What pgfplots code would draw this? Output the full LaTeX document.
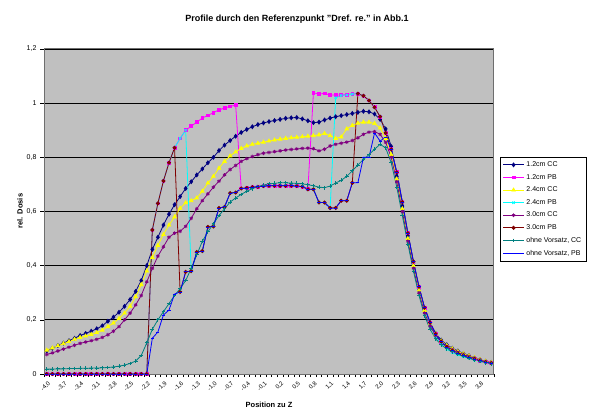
\documentclass[border=0pt]{standalone}
\usepackage{fontspec}
\setmainfont{Liberation Sans}
\usepackage{pgfplots}
\pgfplotsset{compat=1.18}
\usepackage{pgfplotstable}
\definecolor{cNavy}{RGB}{0,0,128}
\definecolor{cMag}{RGB}{255,0,255}
\definecolor{cYel}{RGB}{255,255,0}
\definecolor{cCyan}{RGB}{0,255,255}
\definecolor{cPurp}{RGB}{128,0,128}
\definecolor{cDRed}{RGB}{128,0,0}
\definecolor{cTeal}{RGB}{0,128,128}
\definecolor{cBlue}{RGB}{0,0,255}
\definecolor{cBg}{RGB}{192,192,192}
\definecolor{cFrame}{RGB}{110,110,110}
\pgfplotstableread{
x a b c d e f g h
-4.0 0.085 0 0.088 0 0.072 0 0.018 0
-3.9 0.095 0 0.096 0 0.078 0 0.018 0
-3.8 0.105 0 0.104 0 0.085 0 0.019 0
-3.7 0.114 0 0.112 0 0.092 0 0.019 0
-3.6 0.123 0 0.120 0 0.099 0 0.020 0
-3.5 0.132 0 0.128 0 0.106 0 0.020 0
-3.4 0.142 0 0.135 0 0.113 0 0.021 0
-3.3 0.150 0 0.140 0 0.118 0 0.021 0
-3.2 0.158 0 0.146 0 0.123 0 0.022 0
-3.1 0.167 0 0.153 0 0.128 0 0.022 0
-3.0 0.178 0 0.162 0 0.135 0 0.023 0
-2.9 0.195 0 0.175 0 0.145 0 0.024 0
-2.8 0.210 0 0.188 0 0.158 0 0.026 0
-2.7 0.228 0 0.205 0 0.175 0 0.029 0
-2.6 0.250 0 0.225 0 0.200 0 0.033 0
-2.5 0.275 0 0.250 0 0.225 0 0.039 0
-2.4 0.305 0 0.285 0 0.255 0 0.048 0
-2.3 0.345 0 0.330 0 0.290 0 0.068 0
-2.2 0.400 0 0.380 0 0.340 0 0.115 0
-2.1 0.460 0.532 0.430 0.532 0.390 0.532 0.165 0.132
-2.0 0.505 0.630 0.475 0.630 0.435 0.630 0.200 0.155
-1.9 0.550 0.713 0.515 0.713 0.470 0.713 0.230 0.218
-1.8 0.590 0.780 0.550 0.780 0.505 0.780 0.260 0.236
-1.7 0.625 0.835 0.580 0.835 0.520 0.835 0.290 0.295
-1.6 0.655 0.870 0.612 0.870 0.527 0.303 0.315 0.303
-1.5 0.685 0.900 0.632 0.900 0.545 0.377 0.345 0.377
-1.4 0.710 0.915 0.640 0.380 0.575 0.380 0.390 0.380
-1.3 0.735 0.930 0.650 0.450 0.610 0.450 0.440 0.450
-1.2 0.757 0.945 0.675 0.454 0.640 0.454 0.490 0.454
-1.1 0.780 0.955 0.705 0.543 0.665 0.543 0.525 0.543
-1.0 0.800 0.965 0.730 0.545 0.690 0.545 0.555 0.545
-0.9 0.825 0.975 0.760 0.613 0.712 0.613 0.585 0.613
-0.8 0.845 0.982 0.785 0.617 0.735 0.617 0.610 0.617
-0.7 0.862 0.988 0.805 0.668 0.755 0.668 0.635 0.668
-0.6 0.878 0.993 0.820 0.670 0.770 0.670 0.650 0.670
-0.5 0.892 0.685 0.833 0.685 0.785 0.685 0.663 0.685
-0.4 0.903 0.687 0.842 0.687 0.795 0.687 0.675 0.687
-0.3 0.913 0.690 0.848 0.690 0.803 0.690 0.684 0.690
-0.2 0.921 0.691 0.852 0.691 0.810 0.691 0.692 0.691
-0.1 0.927 0.694 0.856 0.694 0.815 0.694 0.698 0.694
0.0 0.932 0.695 0.860 0.695 0.818 0.695 0.702 0.695
0.1 0.936 0.695 0.864 0.695 0.821 0.695 0.704 0.695
0.2 0.940 0.695 0.867 0.695 0.824 0.695 0.706 0.695
0.3 0.944 0.695 0.870 0.695 0.827 0.695 0.706 0.695
0.4 0.946 0.695 0.872 0.695 0.829 0.695 0.705 0.695
0.5 0.947 0.694 0.874 0.694 0.831 0.694 0.704 0.694
0.6 0.942 0.692 0.876 0.692 0.833 0.692 0.702 0.692
0.7 0.935 0.682 0.878 0.682 0.834 0.682 0.699 0.682
0.8 0.928 1.038 0.880 0.682 0.832 0.682 0.695 0.682
0.9 0.930 1.034 0.883 0.633 0.824 0.633 0.690 0.633
1.0 0.938 1.036 0.888 0.633 0.830 0.633 0.688 0.633
1.1 0.945 1.030 0.880 0.613 0.842 0.613 0.694 0.613
1.2 0.950 1.030 0.870 1.020 0.848 0.613 0.705 0.613
1.3 0.954 1.030 0.875 1.028 0.852 0.640 0.715 0.640
1.4 0.958 1.032 0.905 1.030 0.856 0.640 0.730 0.640
1.5 0.962 1.035 0.918 1.033 0.862 0.706 0.750 0.706
1.6 0.966 1.035 0.926 1.035 0.872 1.035 0.772 0.706
1.7 0.970 1.027 0.930 1.027 0.885 1.027 0.792 0.800
1.8 0.968 1.010 0.930 1.010 0.893 1.010 0.810 0.800
1.9 0.960 0.985 0.925 0.985 0.895 0.985 0.830 0.890
2.0 0.940 0.950 0.908 0.950 0.885 0.950 0.848 0.860
2.1 0.905 0.890 0.870 0.890 0.855 0.890 0.835 0.875
2.2 0.840 0.830 0.810 0.830 0.800 0.830 0.780 0.830
2.3 0.730 0.745 0.720 0.745 0.710 0.745 0.690 0.745
2.4 0.620 0.635 0.610 0.635 0.600 0.635 0.585 0.635
2.5 0.510 0.520 0.500 0.520 0.490 0.520 0.480 0.520
2.6 0.410 0.415 0.400 0.415 0.390 0.415 0.380 0.415
2.7 0.320 0.322 0.310 0.322 0.300 0.322 0.290 0.322
2.8 0.240 0.245 0.235 0.245 0.225 0.245 0.215 0.245
2.9 0.190 0.190 0.185 0.180 0.178 0.190 0.165 0.190
3.0 0.150 0.148 0.148 0.140 0.142 0.148 0.130 0.148
3.1 0.125 0.120 0.122 0.110 0.118 0.120 0.108 0.120
3.2 0.108 0.100 0.105 0.092 0.102 0.100 0.093 0.100
3.3 0.095 0.086 0.093 0.080 0.090 0.086 0.082 0.086
3.4 0.085 0.076 0.083 0.071 0.080 0.076 0.073 0.076
3.5 0.076 0.068 0.075 0.064 0.072 0.068 0.065 0.068
3.6 0.068 0.061 0.067 0.058 0.065 0.061 0.058 0.061
3.7 0.060 0.055 0.060 0.052 0.058 0.055 0.052 0.055
3.8 0.053 0.049 0.053 0.047 0.052 0.049 0.047 0.049
3.9 0.047 0.044 0.047 0.043 0.046 0.044 0.042 0.044
4.0 0.043 0.040 0.042 0.039 0.041 0.040 0.038 0.040
}\data
\begin{document}
\begin{tikzpicture}[x=1pt,y=1pt]
\path[use as bounding box] (0,0) rectangle (594,408);
\begin{axis}[
  at={(44pt,34pt)}, anchor=south west,
  scale only axis, width=450pt, height=325pt,
  xmin=-4.05, xmax=4.05, ymin=0, ymax=1.2,
  axis background/.style={fill=cBg},
  axis line style={draw=cFrame, line width=1pt},
  ytick={0,0.2,0.4,0.6,0.8,1,1.2},
  ymajorgrids, major grid style={black, line width=0.8pt},
  xtick={-4.0,-3.7,-3.4,-3.1,-2.8,-2.5,-2.2,-1.9,-1.6,-1.3,-1.0,-0.7,-0.4,-0.1,0.2,0.5,0.8,1.1,1.4,1.7,2.0,2.3,2.6,2.9,3.2,3.5,3.8},
  minor xtick={-4.05,-3.95,...,4.06},
  major x tick style={draw=none},
  minor tick length=3pt, major tick length=4pt,
  tick align=outside, tick pos=left,
  tick style={black, line width=0.6pt},
  /pgf/number format/assume math mode=true,
  y tick label style={font=\fontsize{7}{8}\selectfont, /pgf/number format/use comma},
  x tick label style={font=\fontsize{6}{7}\selectfont, rotate=45, anchor=north east, inner sep=0.3pt, xshift=-1pt, yshift=-2pt,
     /pgf/number format/.cd, fixed, fixed zerofill, precision=1, use comma},
  every axis plot/.append style={line width=0.8pt},
  legend style={at={(1.013,0.668)}, anchor=north west, draw=black, fill=white,
     font=\fontsize{7}{8}\selectfont, row sep=2.2pt, inner sep=2.5pt, line width=0.6pt},
  legend image code/.code={\draw[mark repeat=2,mark phase=2] plot coordinates {(0pt,0pt)(10.5pt,0pt)(21pt,0pt)};},
  legend cell align=left,
]
\addplot[color=cNavy, mark=diamond*, mark size=1.9pt] table[x=x,y=a] {\data};
\addlegendentry{1.2cm CC}
\addplot[color=cMag, mark=square*, mark size=1.4pt] table[x=x,y=b] {\data};
\addlegendentry{1.2cm PB}
\addplot[color=cYel, mark=triangle*, mark size=2pt] table[x=x,y=c] {\data};
\addlegendentry{2.4cm CC}
\addplot[color=cCyan, mark=x, mark size=1.7pt] table[x=x,y=d] {\data};
\addlegendentry{2.4cm PB}
\addplot[color=cPurp, mark=asterisk, mark size=1.8pt] table[x=x,y=e] {\data};
\addlegendentry{3.0cm CC}
\addplot[color=cDRed, mark=*, mark size=1.6pt] table[x=x,y=f] {\data};
\addlegendentry{3.0cm PB}
\addplot[color=cTeal, mark=+, mark size=1.9pt] table[x=x,y=g] {\data};
\addlegendentry{ohne Vorsatz, CC}
\addplot[color=cBlue, mark=-, mark size=1.6pt] table[x=x,y=h] {\data};
\addlegendentry{ohne Vorsatz, PB}
\end{axis}
\node[font=\bfseries\fontsize{9}{11}\selectfont] at (297,389) {Profile durch den Referenzpunkt "Dref. re." in Abb.1};
\node[font=\bfseries\fontsize{7.5}{9}\selectfont, rotate=90] at (20,197) {rel. Dosis};
\node[font=\bfseries\fontsize{7.5}{9}\selectfont] at (269,3.5) {Position zu Z};
\end{tikzpicture}
\end{document}
